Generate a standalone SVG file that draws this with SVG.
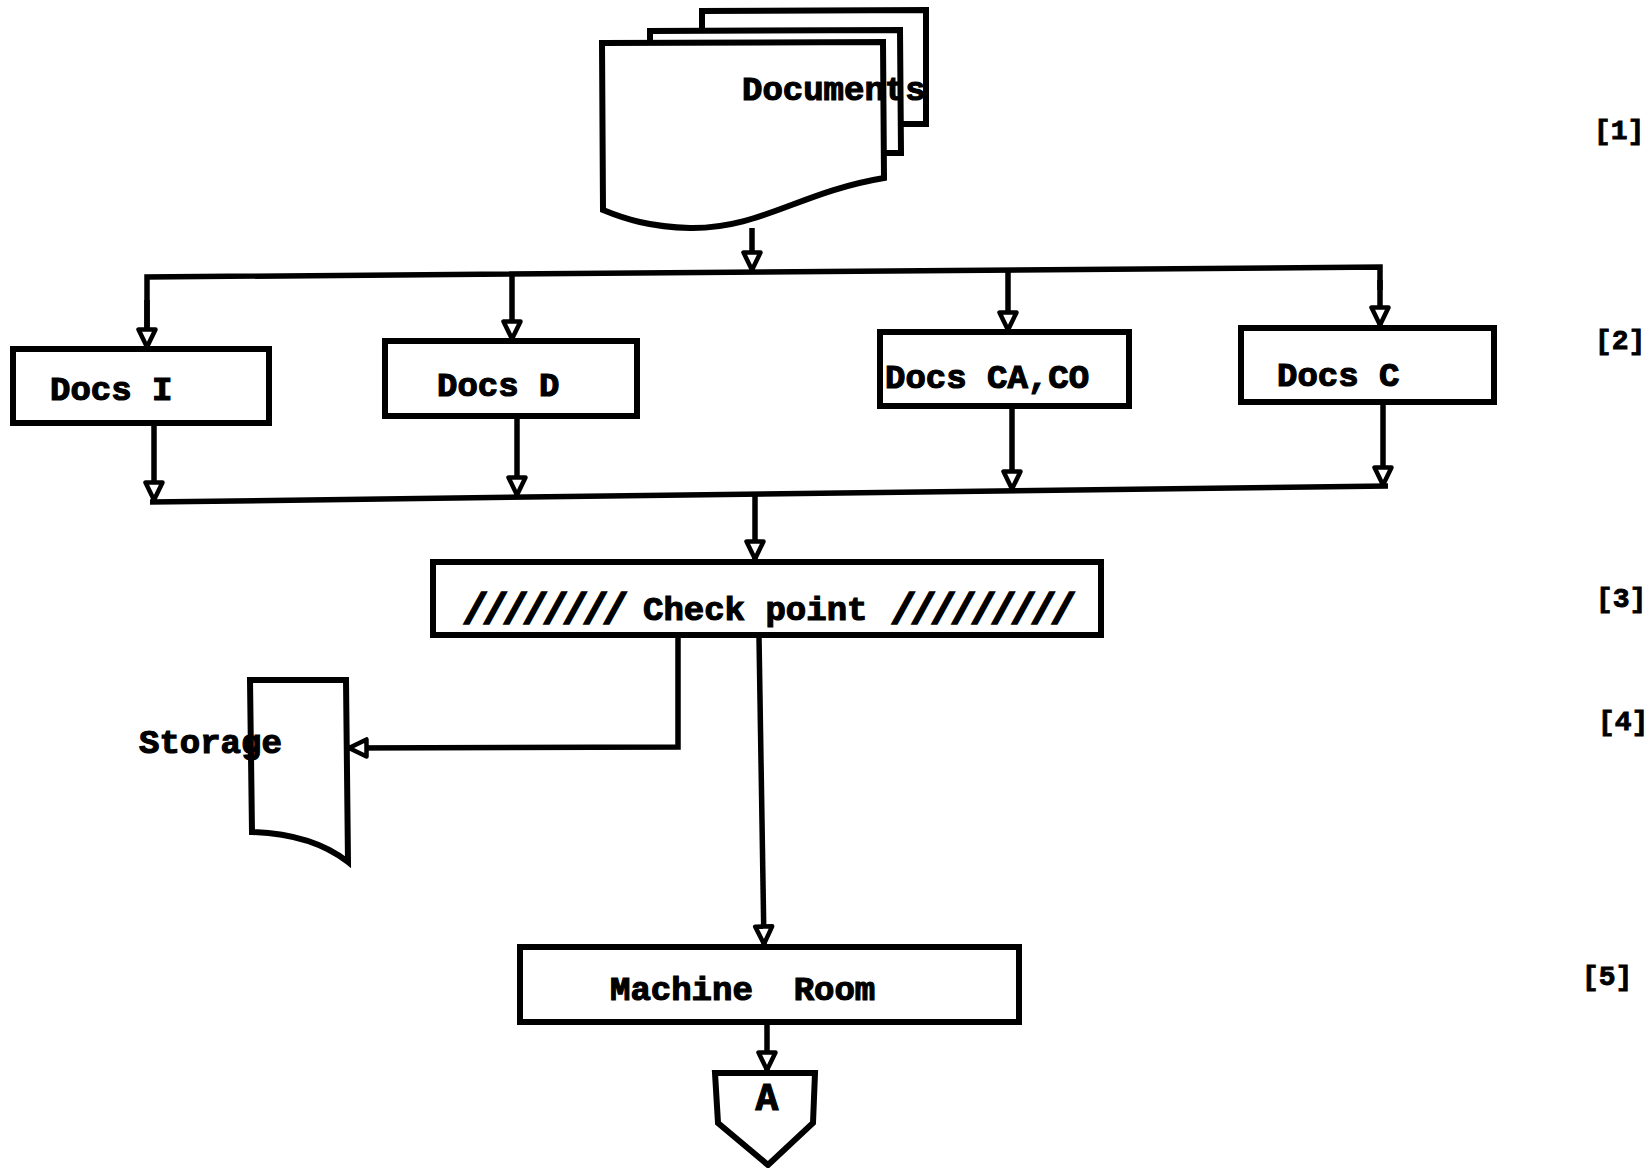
<svg xmlns="http://www.w3.org/2000/svg" width="1650" height="1168" viewBox="0 0 1650 1168">
<style>
.box{fill:#fff;stroke:#000;stroke-width:6;stroke-linejoin:miter}
.sheet{fill:none;stroke:#000;stroke-width:6;stroke-linejoin:miter}
.line{fill:none;stroke:#000;stroke-width:5.5;stroke-linejoin:miter}
.arr{marker-end:url(#ah)}
.t{font-family:"Liberation Mono","DejaVu Sans Mono",monospace;font-weight:bold;font-size:34px;fill:#000;stroke:#000;stroke-width:1.2}
.sl{font-family:"Liberation Mono","DejaVu Sans Mono",monospace;font-weight:bold;font-size:44px;letter-spacing:-6.4px;fill:#000;stroke:#000;stroke-width:1.6}
.lbl{font-family:"Liberation Mono","DejaVu Sans Mono",monospace;font-weight:bold;font-size:28px;fill:#000;stroke:#000;stroke-width:0.9}
</style>
<defs>
<marker id="ah" viewBox="0 0 24 24" refX="22" refY="12" markerWidth="24" markerHeight="24" markerUnits="userSpaceOnUse" orient="auto">
<path d="M3.5,3.5 L21,12 L3.5,20.5 Z" fill="#fff" stroke="#000" stroke-width="4.5" stroke-linejoin="round"/>
</marker>
</defs>
<rect width="1650" height="1168" fill="#fff"/>

<g id="connectors">
<path class="line arr" d="M752,228 L752,271"/>
<path class="line" d="M147,347 L147,277 L1380,267 L1380,290"/>
<path class="line arr" d="M147,300 L147,348"/>
<path class="line arr" d="M512,274 L512,340"/>
<path class="line arr" d="M1008,270 L1008,331"/>
<path class="line arr" d="M1380,280 L1380,326"/>
<path class="line" d="M150,502 L1388,486"/>
<path class="line arr" d="M154,424 L154,501"/>
<path class="line arr" d="M517,417 L517,496"/>
<path class="line arr" d="M1012,407 L1012,490"/>
<path class="line arr" d="M1383,402 L1383,486"/>
<path class="line arr" d="M755,494 L755,560"/>
<path class="line arr" d="M678,637 L678,747 L348,748"/>
<path class="line arr" d="M759,637 L764,945"/>
<path class="line arr" d="M767,1022 L767,1071"/>
</g>

<g id="documents">
<path class="sheet" d="M702,31 L702,11 L926,10 L926,124 L901,124"/>
<path class="sheet" d="M650,48 L650,31 L900,30 L901,153 L884,153"/>
<path class="box" d="M602,43 L883,42 L884,178 C 800,192 760,229 690,228 C 650,227 625,219 603,210 Z"/>
<text class="t" x="742" y="100">Documents</text>
</g>

<g id="docs-i">
<rect class="box" x="13" y="349" width="256" height="74"/>
<text class="t" x="50" y="400">Docs I</text>
</g>
<g id="docs-d">
<rect class="box" x="385" y="341" width="252" height="75"/>
<text class="t" x="437" y="396">Docs D</text>
</g>
<g id="docs-ca-co">
<rect class="box" x="880" y="332" width="249" height="74"/>
<text class="t" x="885" y="388">Docs CA,CO</text>
</g>
<g id="docs-c">
<rect class="box" x="1241" y="328" width="253" height="74"/>
<text class="t" x="1277" y="386">Docs C</text>
</g>

<g id="check-point">
<rect class="box" x="433" y="562" width="668" height="73"/>
<text class="sl" x="462" y="624">////////</text>
<text class="t" x="643" y="620">Check point</text>
<text class="sl" x="890" y="624">/////////</text>
</g>

<g id="storage">
<path class="box" d="M250,680 L346,680 L348,862 Q 312,834 252,832 Z"/>
<text class="t" x="139" y="753">Storage</text>
</g>

<g id="machine-room">
<rect class="box" x="520" y="947" width="499" height="75"/>
<text class="t" x="610" y="1000" xml:space="preserve">Machine  Room</text>
</g>

<g id="connector-a">
<path class="box" d="M715,1073 L815,1073 L813,1123 L768,1165 L718,1123 Z"/>
<text class="t" x="767" y="1110" text-anchor="middle" style="font-size:38px">A</text>
</g>

<g id="labels">
<text class="lbl" x="1594" y="139">[1]</text>
<text class="lbl" x="1595" y="349">[2]</text>
<text class="lbl" x="1596" y="607">[3]</text>
<text class="lbl" x="1598" y="730">[4]</text>
<text class="lbl" x="1582" y="985">[5]</text>
</g>
</svg>
